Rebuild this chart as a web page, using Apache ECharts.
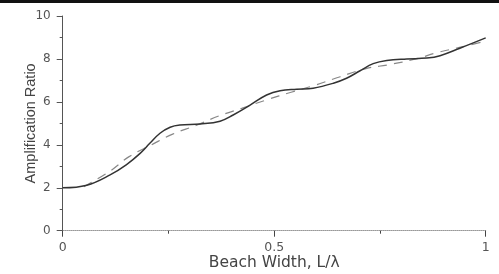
<!DOCTYPE html>
<html><head><meta charset="utf-8">
<script src="https://cdn.jsdelivr.net/npm/echarts@6/dist/echarts.min.js"></script>
<style>html,body{margin:0;padding:0;background:#fff}#c{width:499px;height:274px}</style>
</head><body><div id="c"></div>
<script>
var solidX = [0, 0.057, 0.112, 0.151, 0.183, 0.206, 0.230, 0.254, 0.277, 0.325, 0.372, 0.403, 0.443, 0.482, 0.514, 0.553, 0.592, 0.640, 0.671, 0.703, 0.734, 0.766, 0.813, 0.861, 0.892, 0.939, 1.0];
var solidY = [2.0, 2.12, 2.6, 3.08, 3.6, 4.07, 4.54, 4.82, 4.92, 4.97, 5.10, 5.39, 5.85, 6.32, 6.52, 6.59, 6.64, 6.87, 7.10, 7.45, 7.78, 7.93, 8.0, 8.04, 8.15, 8.50, 8.98];
var dashX = [0.05, 0.11, 0.157, 0.21, 0.26, 0.315, 0.37, 0.423, 0.483, 0.54, 0.594, 0.656, 0.717, 0.77, 0.835, 0.886, 0.946, 1.0];
var dashY = [2.05, 2.75, 3.45, 4.0, 4.5, 4.9, 5.35, 5.7, 6.1, 6.45, 6.76, 7.17, 7.55, 7.73, 8.0, 8.3, 8.57, 8.83];
var yTicks = [0, 2, 4, 6, 8, 10];
var xTickLabels = {0: '0', 0.5: '0.5', 1: '1'};
function pairs(xs, ys){ return xs.map(function(x,i){return [x, ys[i]];}); }
var chart = echarts.init(document.getElementById('c'));
var wide = '"DejaVu Sans", sans-serif';
var narrow = '"Liberation Sans", Arial, sans-serif';
chart.setOption({
  animation: false,
  graphic: [{type:'rect', shape:{x:0,y:0,width:499,height:3}, style:{fill:'#111'}}],
  grid: {left: 62.7, right: 13.3, top: 16, bottom: 43.3, containLabel: false, outerBoundsMode: 'none'},
  xAxis: {
    type: 'value', min: 0, max: 1, interval: 0.5,
    name: 'Beach Width, L/\u03bb', nameLocation: 'middle', nameGap: 24, nameMoveOverlap: false,
    nameTextStyle: {color: '#444', fontSize: 15.5, fontFamily: wide},
    axisLine: {lineStyle: {color: '#999', type: 'dotted', width: 1}},
    axisTick: {show: true, length: 6, lineStyle: {color: '#444'}},
    minorTick: {show: true, splitNumber: 2, length: 3, lineStyle: {color: '#444'}},
    splitLine: {show: false},
    axisLabel: {color: '#555', fontSize: 12.5, fontFamily: wide, margin: 11,
      formatter: function(v){ return xTickLabels[v] !== undefined ? xTickLabels[v] : ''; }}
  },
  yAxis: {
    type: 'value', min: 0, max: 10, interval: 2,
    name: 'Amplification Ratio', nameLocation: 'middle', nameGap: 24, nameMoveOverlap: false,
    nameTextStyle: {color: '#444', fontSize: 14.5, fontFamily: narrow},
    axisLine: {show: true, lineStyle: {color: '#555', width: 1}},
    axisTick: {show: true, length: 6, lineStyle: {color: '#555'}},
    minorTick: {show: true, splitNumber: 2, length: 3, lineStyle: {color: '#555'}},
    splitLine: {show: false},
    axisLabel: {color: '#555', fontSize: 12, fontFamily: wide, margin: 12,
      formatter: function(v){ return yTicks.indexOf(v) >= 0 ? String(v) : ''; }}
  },
  series: [
    {type: 'line', data: pairs(dashX, dashY), smooth: 0.4, symbol: 'none',
      lineStyle: {color: '#888', width: 1.2, type: [9, 7]}},
    {type: 'line', data: pairs(solidX, solidY), smooth: 0.4, symbol: 'none',
      lineStyle: {color: '#333', width: 1.5}}
  ]
});
</script></body></html>
